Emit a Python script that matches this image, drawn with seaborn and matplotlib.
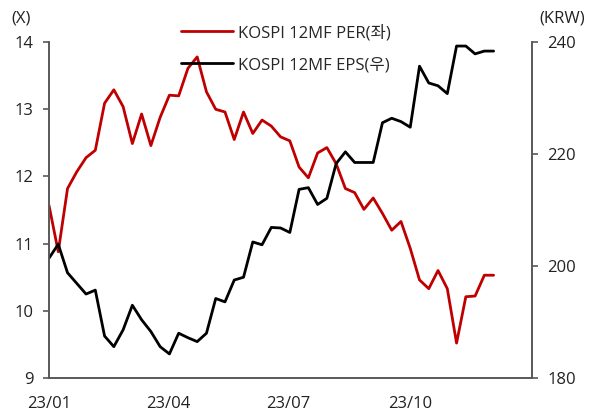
import pandas as pd
import numpy as np
import matplotlib.pyplot as plt
import matplotlib.dates as mdates
import seaborn as sns

dates = pd.date_range('2023-01-01', periods=49, freq='W-SUN')

per = [11.57, 10.88, 11.82, 12.07, 12.28, 12.39, 13.09, 13.29, 13.04, 12.49,
       12.93, 12.46, 12.88, 13.21, 13.20, 13.61, 13.78, 13.26, 13.00, 12.96,
       12.55, 12.96, 12.64, 12.84, 12.75, 12.59, 12.53, 12.14, 11.98, 12.35,
       12.43, 12.19, 11.82, 11.76, 11.51, 11.68, 11.45, 11.20, 11.33, 10.93,
       10.46, 10.33, 10.60, 10.33, 9.52, 10.21, 10.22, 10.53, 10.53]

eps = [201.4, 203.9, 198.8, 196.9, 195.0, 195.7, 187.5, 185.6, 188.6, 193.0,
       190.4, 188.3, 185.6, 184.3, 188.0, 187.2, 186.5, 188.0, 194.2, 193.6,
       197.5, 198.0, 204.3, 203.8, 206.9, 206.8, 206.0, 213.7, 214.0, 211.0,
       212.1, 218.3, 220.4, 218.5, 218.5, 218.5, 225.6, 226.4, 225.8, 224.8,
       235.7, 232.7, 232.2, 230.8, 239.3, 239.3, 237.9, 238.4, 238.4]

xticks = ['2023-01-01', '2023-04-01', '2023-07-01', '2023-10-01']

df = pd.DataFrame({'date': dates, 'per': per, 'eps': eps})

sns.set_style('white')
plt.rcParams['font.family'] = ['Open Sans', 'Noto Sans CJK KR']

fig = plt.figure(figsize=(5.96, 4.17), dpi=100)
ax = fig.add_axes([0.0822, 0.0935, 0.8104, 0.8055])
ax2 = ax.twinx()

sns.lineplot(data=df, x='date', y='per', ax=ax, color='#C00000', lw=2, label='KOSPI 12MF PER(좌)', legend=False)
sns.lineplot(data=df, x='date', y='eps', ax=ax2, color='black', lw=2, label='KOSPI 12MF EPS(우)', legend=False)

ax.set_xlim(pd.Timestamp('2023-01-01'), pd.Timestamp('2024-01-01'))
ax.set_ylim(9, 14)
ax2.set_ylim(180, 240)
ax.set_yticks([9, 10, 11, 12, 13, 14])
ax2.set_yticks([180, 200, 220, 240])
ax.set_xticks(pd.to_datetime(xticks))
ax.xaxis.set_major_formatter(mdates.DateFormatter('%y/%m'))
ax.set_xlabel('')
ax.set_ylabel('')
ax2.set_ylabel('')

for a in (ax, ax2):
    a.spines['top'].set_visible(False)
    for s in ('left', 'right', 'bottom'):
        a.spines[s].set_color('#595959')
        a.spines[s].set_linewidth(1.2)
    a.tick_params(length=4, width=1.2, color='#595959', labelsize=12, labelcolor='#222222', direction='out')
ax.tick_params(axis='y', pad=7)
ax2.tick_params(axis='y', pad=7)
ax.tick_params(axis='x', pad=9)

h1, l1 = ax.get_legend_handles_labels()
h2, l2 = ax2.get_legend_handles_labels()
leg = ax2.legend(h1 + h2, l1 + l2, loc='upper left', bbox_to_anchor=(0.242, 1.097), frameon=False,
                 fontsize=12, handlelength=3.1, handletextpad=0.35, labelspacing=0.97)
leg.set_zorder(10)

fig.text(0.019, 0.955, '(X)', fontsize=12, ha='left', va='center', color='#222222')
fig.text(0.981, 0.955, '(KRW)', fontsize=12, ha='right', va='center', color='#222222')

fig.savefig('out.png', dpi=100)
